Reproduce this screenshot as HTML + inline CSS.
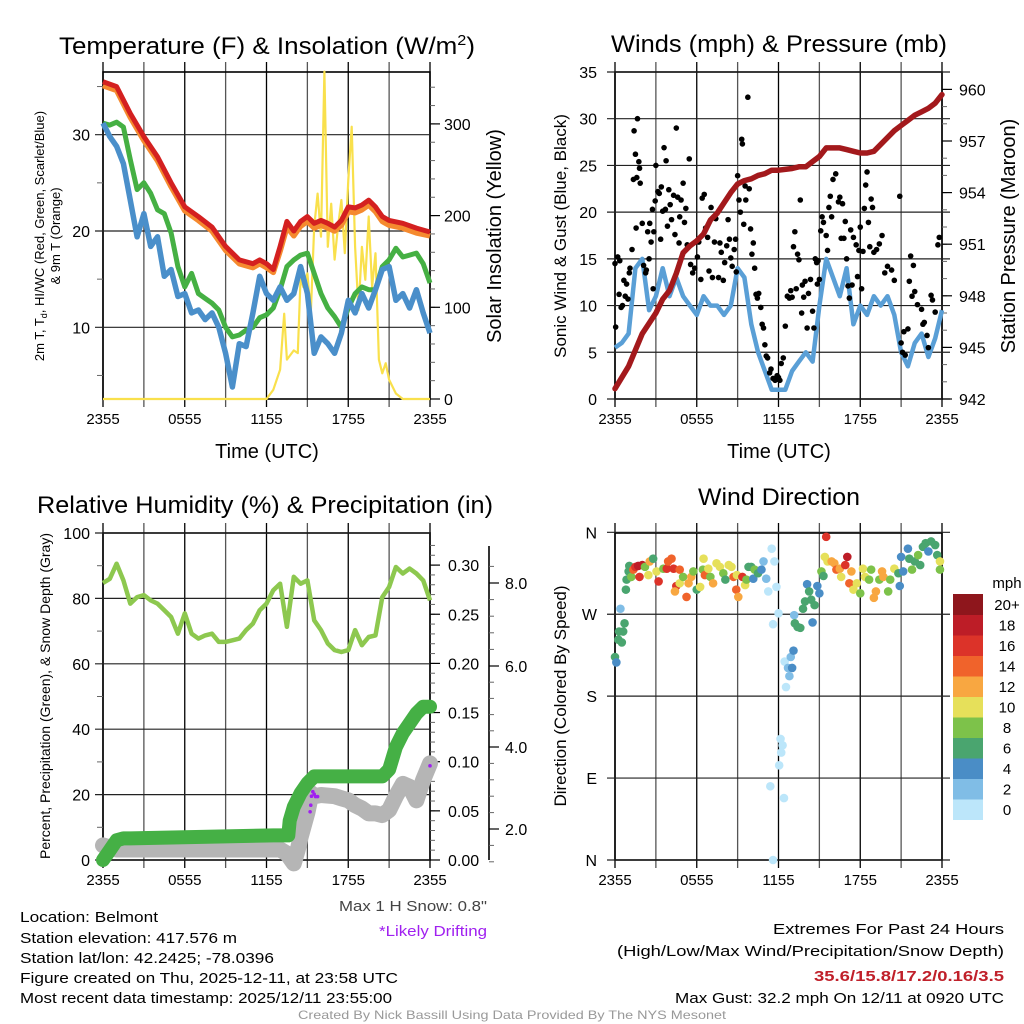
<!DOCTYPE html>
<html><head><meta charset="utf-8"><style>
html,body{margin:0;padding:0;background:#fff;}
svg{display:block;font-family:"Liberation Sans",sans-serif;}
</style></head><body>
<svg id="fig" xmlns="http://www.w3.org/2000/svg" width="1024" height="1024" viewBox="0 0 1024 1024">
<rect x="0" y="0" width="1024" height="1024" fill="#fff"/>
<g id="g1"></g>
<g id="g2"></g>
<g id="g3"></g>
<g id="g4"></g>
<g id="txt">
<text x="267" y="54" font-size="24" text-anchor="middle" textLength="416" lengthAdjust="spacingAndGlyphs">Temperature (F) &amp; Insolation (W/m<tspan dy="-9" font-size="15">2</tspan><tspan dy="9">)</tspan></text>
<text x="779" y="52" font-size="24" text-anchor="middle" textLength="336" lengthAdjust="spacingAndGlyphs">Winds (mph) &amp; Pressure (mb)</text>
<text x="265" y="513" font-size="24" text-anchor="middle" textLength="456" lengthAdjust="spacingAndGlyphs">Relative Humidity (%) &amp; Precipitation (in)</text>
<text x="779" y="505" font-size="24" text-anchor="middle" textLength="162" lengthAdjust="spacingAndGlyphs">Wind Direction</text>
<text x="267" y="458" font-size="20" text-anchor="middle">Time (UTC)</text>
<text x="779" y="458" font-size="20" text-anchor="middle">Time (UTC)</text>
<text transform="translate(44,236) rotate(-90)" font-size="13" text-anchor="middle">2m T, T<tspan dy="3" font-size="9">d</tspan><tspan dy="-3">, HI/WC (Red, Green, Scarlet/Blue)</tspan></text>
<text transform="translate(60,236) rotate(-90)" font-size="13" text-anchor="middle">&amp; 9m T (Orange)</text>
<text transform="translate(501,236) rotate(-90)" font-size="20" text-anchor="middle">Solar Insolation (Yellow)</text>
<text transform="translate(566,236) rotate(-90)" font-size="17" text-anchor="middle">Sonic Wind &amp; Gust (Blue, Black)</text>
<text transform="translate(1015,236) rotate(-90)" font-size="20" text-anchor="middle">Station Pressure (Maroon)</text>
<text transform="translate(50,696) rotate(-90)" font-size="14" text-anchor="middle">Percent, Precipitation (Green), &amp; Snow Depth (Gray)</text>
<text transform="translate(566,696) rotate(-90)" font-size="17" text-anchor="middle">Direction (Colored By Speed)</text>
<text x="487" y="911" font-size="15" fill="#444" text-anchor="end" textLength="148" lengthAdjust="spacingAndGlyphs">Max 1 H Snow: 0.8"</text>
<text x="487" y="936" font-size="15" fill="#a020f0" text-anchor="end" textLength="108" lengthAdjust="spacingAndGlyphs">*Likely Drifting</text>
<text x="20" y="922" font-size="15" textLength="138" lengthAdjust="spacingAndGlyphs">Location: Belmont</text>
<text x="20" y="943" font-size="15" textLength="217" lengthAdjust="spacingAndGlyphs">Station elevation: 417.576 m</text>
<text x="20" y="963" font-size="15" textLength="254" lengthAdjust="spacingAndGlyphs">Station lat/lon: 42.2425; -78.0396</text>
<text x="20" y="983" font-size="15" textLength="378" lengthAdjust="spacingAndGlyphs">Figure created on Thu, 2025-12-11, at 23:58 UTC</text>
<text x="20" y="1003" font-size="15" textLength="372" lengthAdjust="spacingAndGlyphs">Most recent data timestamp: 2025/12/11 23:55:00</text>
<text x="1004" y="934" font-size="15" text-anchor="end" textLength="231" lengthAdjust="spacingAndGlyphs">Extremes For Past 24 Hours</text>
<text x="1004" y="956" font-size="15" text-anchor="end" textLength="387" lengthAdjust="spacingAndGlyphs">(High/Low/Max Wind/Precipitation/Snow Depth)</text>
<text x="1004" y="981" font-size="15" font-weight="bold" fill="#c0202a" text-anchor="end" textLength="190" lengthAdjust="spacingAndGlyphs">35.6/15.8/17.2/0.16/3.5</text>
<text x="1004" y="1003" font-size="15" text-anchor="end" textLength="329" lengthAdjust="spacingAndGlyphs">Max Gust: 32.2 mph On 12/11 at 0920 UTC</text>
<text x="512" y="1019" font-size="12" fill="#999" text-anchor="middle" textLength="428" lengthAdjust="spacingAndGlyphs">Created By Nick Bassill Using Data Provided By The NYS Mesonet</text>
</g>
</svg>
<script>
// ---------- data ----------
const hourTicks = [0,6,12,18,24];
const hourLabels = ["2355","0555","1155","1755","2355"];
const tempHours = [0,1,2,3,4,5,6,7,8,9,10,11,11.5,12,12.5,13,13.5,14,14.5,15,15.5,16,16.5,17,17.5,18,18.5,19,19.5,20,20.5,21,22,23,24];
const tempVals = [35.5,35,32.2,29.8,27.7,25,22.5,21.5,20.4,18.4,17,16.6,17,16.6,16,18.4,21,20,21,21.5,20.8,21.1,20.8,20.4,21.1,22.5,22.4,22.7,23.2,22.5,21.5,21.1,20.8,20.3,19.9];
const temp9mVals = [35.1,34.6,31.8,29.4,27.3,24.6,22.1,21.1,20,18,16.6,16.2,16.6,16.2,15.7,17.9,20.4,19.5,20.5,21,20.3,20.6,20.3,20,20.6,22,21.9,22.2,22.7,22,21,20.6,20.3,19.8,19.5];
const halfHours = [0,0.5,1,1.5,2,2.5,3,3.5,4,4.5,5,5.5,6,6.5,7,7.5,8,8.5,9,9.5,10,10.5,11,11.5,12,12.5,13,13.5,14,14.5,15,15.5,16,16.5,17,17.5,18,18.5,19,19.5,20,20.5,21,21.5,22,22.5,23,23.5,24];
const dewVals = [31.2,31,31.3,30.8,27.4,24.3,25,23.9,22.2,21.8,19.8,16.3,14.2,15.6,13.5,13,12.5,11.8,10,9,9.2,9.7,10,11,11.3,12,13.9,16.3,17,17.5,17.7,15.6,13.5,12,11.1,10,12,13.5,14.2,13.9,13.9,16.3,17,18.2,17.3,17.5,17.7,16.6,14.6];
const wcVals = [31.2,29.8,28.8,27,23.2,19.4,21.8,18.4,19.4,15.3,16,13.2,13.5,11.5,11.8,10.8,11.5,10,7.3,3.8,8.3,8,11.5,15.3,13.5,12.8,14.2,12.8,13.5,16.3,13.5,7.3,9,8.3,7.3,9.4,12.8,11.5,13.5,12,13.9,16,16.3,12.8,13.5,12,13.9,11.5,9.4];
const solarHours = [0,12,12.5,13,13.3,13.5,14,14.3,14.5,14.7,15,15.25,15.5,15.75,16,16.25,16.5,16.75,17,17.25,17.5,17.75,18,18.25,18.5,18.75,19,19.25,19.5,19.75,20,20.25,20.5,20.75,21,21.5,22,24];
const solarVals = [0,0,10,32,93,43,53,50,133,122,137,93,188,224,177,357,166,213,152,188,217,159,239,297,166,97,166,130,199,122,159,43,28,39,21,6,0,0];
const windVals = [5.5,6,7,14,15,9.5,11,14,11,13,11,10,9,11,10,10,9,10,14,13,8,5,3,1,1,1,3,4,5,4,10,15,13,11,14,8,10,9,11,10,11,9,5,3.5,6,7,4.5,6.5,9.5];
const gustHours = [0,0.05,0.2,0.3,0.35,0.45,0.55,0.65,0.75,0.85,0.95,1.05,1.1,1.25,1.35,1.4,1.5,1.55,1.6,1.65,1.75,1.8,1.85,2,2.1,2.25,2.3,2.4,2.5,2.55,2.65,2.75,2.8,2.85,2.95,3.0,3.15,3.25,3.35,3.4,3.5,3.6,3.7,3.75,3.85,3.95,4.05,4.15,4.3,4.4,4.5,4.6,4.7,4.75,4.85,5.0,5.1,5.2,5.3,5.45,5.55,5.7,5.85,6.05,6.15,6.3,6.4,6.55,6.65,6.8,6.9,7.05,7.15,7.3,7.4,7.6,7.7,7.8,7.95,8.05,8.2,8.3,8.4,8.5,8.6,8.75,8.85,8.9,9.0,9.1,9.2,9.3,9.35,9.45,9.55,9.6,9.75,9.85,9.95,10.05,10.15,10.25,10.35,10.45,10.55,10.7,10.8,10.9,11.0,11.1,11.2,11.35,11.45,11.6,11.75,11.9,12.0,12.1,12.2,12.35,12.5,12.65,12.8,12.9,13.0,13.1,13.2,13.3,13.4,13.5,13.6,13.7,13.75,13.85,13.95,14.1,14.2,14.35,14.5,14.6,14.7,14.8,14.85,14.9,15.0,15.1,15.2,15.3,15.5,15.6,15.7,15.8,15.9,16.0,16.2,16.4,16.5,16.6,16.7,16.8,16.9,17.0,17.1,17.2,17.3,17.4,17.5,17.7,17.8,17.9,18.0,18.1,18.2,18.3,18.4,18.5,18.6,18.7,18.8,18.9,19.0,19.2,19.4,19.6,19.8,20.0,20.3,20.5,20.9,21.0,21.1,21.2,21.3,21.5,21.6,21.7,21.8,21.9,22.0,22.2,22.5,22.6,22.7,22.9,23.0,23.2,23.3,23.5,23.7,23.8];
const gustVals = [14.5,7.7,15.2,11.2,14.8,9.8,10,12.7,11,12.3,10.7,13.5,14,16,23.5,28.7,26.2,18.3,23.7,30,25.4,24.7,23.1,18.8,14.3,13.5,13.8,17.9,15,18.8,16.8,20.3,11.8,17.9,21.2,25,22.2,22,17.1,22.7,20.1,26.9,20.3,25.5,18.5,22.4,20.8,19.2,21.8,17.6,29,21.6,16.7,19.5,21.3,23.1,18.9,20.4,16.5,25.7,14.4,13.5,14,15.2,16.8,12.8,21.5,21.9,18.3,17.3,13.7,20.5,13,16.8,19.3,13,16.7,15.7,12.7,14.6,16.4,19.2,17.1,15.1,14.2,16,17.1,13.6,23.9,21.3,20,27.8,27.3,18.7,22.8,21.3,32.3,22.5,18.2,15.5,16.7,14,11.2,10.8,11.3,9.8,8,7.6,5.8,4.6,4.4,2.8,3.2,2.2,2,2.5,2.3,2,3.8,4.4,7.8,11,10.8,11.6,10.9,16.3,17.9,11.8,15.5,14.9,21.3,9.2,12.2,10.9,12.6,7.6,11.3,12.8,9.4,7.6,15,14.6,12.3,14.8,12.8,18,19.5,18.9,17.5,15.9,20.5,21.7,19.5,23.5,24.1,21.1,21.6,17.2,20.9,17.2,19,15,12.1,10.8,18.1,12.2,17.3,16.5,13.1,15.9,18.4,11.8,15.8,20.4,22.9,24.3,18.9,16.3,21.4,20.5,15.7,16,16.6,17.5,13.5,14.2,13.8,12.7,21.7,6,5,7.2,4.7,7.5,12.6,15.3,11,14.3,11.5,10.1,9.6,8,8.2,6.8,5.5,11.1,10.6,9.3,16.5,17.3];
const pressHours = [0,1,2,3,3.5,4,4.5,5,5.5,6,6.5,7,7.5,8,8.5,9,9.5,10,10.5,11,11.5,12,13,13.5,14,14.5,15,15.5,16,16.5,17,17.5,18,18.5,19,19.5,20,20.5,21,21.5,22,22.5,23,23.5,24];
const pressVals = [942.6,943.9,945.8,947,947.8,948.3,949.3,950.5,950.9,951.2,951.6,952.4,952.8,953.4,954,954.5,954.7,954.8,955,955.1,955.3,955.3,955.4,955.5,955.5,955.8,956.1,956.6,956.6,956.6,956.5,956.4,956.3,956.3,956.4,956.8,957.2,957.6,957.9,958.2,958.5,958.7,958.9,959.2,959.7];
const rhVals = [84.7,86,90.6,85.5,78.4,80.4,81,79.4,78.4,76.4,74.3,69.2,75.4,69.2,67.7,68.7,69.2,66.7,66.7,67.2,67.7,70.3,72.3,76.4,78.4,82.5,84.5,71.3,86.6,84.5,85.5,73.3,70.3,66.2,64.2,63.6,64.2,70.3,65.7,68.2,68.7,80.4,83.5,89.6,87.6,89.1,87.6,85.5,79.4];
const precipHours = [0,0.5,1,1.5,2,12.5,13.6,13.7,14,14.5,15,15.5,20.5,21,21.5,22,22.5,23,23.5,24];
const precipVals = [0,0.01,0.02,0.022,0.022,0.025,0.025,0.04,0.054,0.068,0.078,0.085,0.085,0.092,0.115,0.129,0.139,0.149,0.156,0.156];
const snowHours = [0,1,13,13.5,14,14.3,14.5,15,15.3,15.5,16,17,17.5,18,18.5,19,19.5,20,20.5,21,21.5,22,22.5,23,23.5,24];
const snowVals = [1.6,1.5,1.5,1.4,1.16,1.5,1.8,2.4,2.87,2.8,2.83,2.8,2.75,2.7,2.58,2.5,2.38,2.38,2.34,2.46,2.8,3.1,3.03,2.7,3.2,3.6];
const driftHours = [15.2,15.25,15.3,15.4,15.5,15.6,15.75,24];
const driftVals = [2.42,2.58,2.8,2.91,2.85,2.79,2.79,3.54];
const dirHours = [0,0.1,0.4,0.3,0.6,0.7,0.25,0.5,0.8,0.85,1,1.05,1.2,1.35,1.5,1.7,1.8,2,2.2,2.45,2.55,2.8,3.05,3.2,3.55,3.8,3.9,4.15,4.3,4.5,4.4,4.75,4.75,5,5.25,5.4,5.6,5.75,6,6.25,6.5,6.45,6.6,6.85,7,7.2,7.45,7.7,7.95,8.1,8.35,8.55,8.7,8.9,9.05,8.95,9.35,9.55,9.65,9.8,10,10.15,10.25,10.5,10.75,10.9,11.1,11.25,11.5,11.7,11.85,12,11.6,11.6,11.4,12.05,12.2,12.3,12.15,12.4,12.45,12.55,12.8,12.7,12.9,13.0,13.1,13.15,13.2,13.4,13.6,13.8,13.95,14.1,14.25,14.4,14.5,14.65,14.85,15.0,15.15,15.3,15.4,15.5,15.6,15.9,16.1,16.25,16.5,16.6,16.9,17.05,17.2,17.35,17.5,17.75,18,18.2,18.35,18.65,18.8,19,19.15,19.4,19.6,19.7,20.05,20.2,20.5,20.8,20.9,21,21.15,21.5,21.6,21.8,22,22.25,22.4,22.6,22.8,23,23.2,23.5,23.65,23.85,23.85];
const dirVals = [223,217,276,251,251,260,242,239,297,308,317,323,311,319,322,323,311,324,322,313,328,331,317,306,320,320,328,331,320,301,295,319,304,311,289,304,311,317,297,300,331,319,313,320,311,304,326,322,315,308,324,322,311,297,289,313,311,302,308,322,322,309,319,315,319,328,309,295,342,328,300,271,259,0,81,104,118,126,133,68,218,190,202,211,223,211,230,269,260,256,255,276,284,303,295,286,261,280,301,293,317,312,333,355,328,328,326,319,320,311,324,333,304,317,297,304,293,320,311,308,319,288,295,308,317,311,295,308,320,315,301,333,317,342,331,319,328,335,324,344,348,339,350,346,335,328,319];
const dirSpeeds = [6,4,2,6,6,6,6,6,6,6,6,6,8,14,16,18,16,18,8,10,12,6,10,16,8,16,14,14,16,16,12,14,10,8,14,12,12,8,6,10,10,8,14,10,8,12,10,10,8,6,10,10,14,14,12,10,16,10,8,6,6,4,8,6,4,2,2,0,0,0,0,0,0,0,0,0,0,0,0,0,0,0,2,2,2,4,4,2,6,6,6,6,6,4,6,6,4,6,4,4,8,6,10,16,10,12,12,14,12,10,16,18,14,12,10,10,8,10,10,8,8,12,12,8,12,12,8,8,10,6,4,4,4,4,6,8,6,8,6,6,6,4,6,6,6,10,8];
const speedBins = [0,2,4,6,8,10,12,14,16,18,20];
const speedLabels = ["0","2","4","6","8","10","12","14","16","18","20+"];
const speedColors = ["#bce6fa","#80bde6","#4a8dc6","#4aa56f","#7dc24a","#e6e05a","#f8a741","#f0632b","#dc3329","#bd1d27","#8e161c"];

// ---------- helpers ----------
const NS = "http://www.w3.org/2000/svg";
function mk(tag, parent, attrs){ const e=document.createElementNS(NS,tag); for(const k in attrs) e.setAttribute(k,attrs[k]); parent.appendChild(e); return e; }
function pathD(xs, ys){ return xs.map((x,i)=>(i?"L":"M")+x.toFixed(1)+","+ys[i].toFixed(1)).join(""); }

const X = (h, x0, x1) => x0 + h*(x1-x0)/24;
const x1f = h => X(h,103,430);
const x2f = h => X(h,615,942);
const tY = v => 423.6 - 9.63*v;
const sY = v => 399 - 0.917*v;
const wY = v => 399 - v*9.343;
const pY = p => 399 - (p-942)*17.2;
const rY = v => 860 - 3.27*v;
const prY = v => 860 - v*983;
const snY = v => 911 - 41*v;
const dY = d => 860 - d*0.9103;

function frame(g, x0, x1, y0, y1, xf, nameP){
  for(let h=0; h<=24; h+=3){
    const x = xf(h);
    const l = mk("line", g, {x1:x,x2:x,y1:y0-10,y2:y1+8,stroke:(h%6===0)?"#000":"#555","stroke-width":1.3});
    
    
  }
  hourTicks.forEach((h,i)=>{
    const t = mk("text", g, {x:xf(h), y:y1+25, "font-size":15, "text-anchor":"middle"});
    t.textContent = hourLabels[i];
    
    
  });
  const r = mk("rect", g, {x:x0,y:y0,width:x1-x0,height:y1-y0,fill:"none",stroke:"#000","stroke-width":1.6});
  
  
}
function hgrid(g, vals, yf, x0, x1, labels, lx, nameP, extend){
  vals.forEach((v,i)=>{
    const y = yf(v);
    const l = mk("line", g, {x1:x0-8,x2:x1+(extend||0),y1:y,y2:y,stroke:"#222","stroke-width":1.2});
    
    
    const t = mk("text", g, {x:lx, y:y+6, "font-size":16, "text-anchor":"end"});
    t.textContent = labels[i];
    
    
  });
}
function rightAxis(g, x, major, minor, yf, labels, lx, nameP, fs){
  minor.forEach(v=>{ const l=mk("line",g,{x1:x,x2:x+5,y1:yf(v),y2:yf(v),stroke:"#666","stroke-width":1});
    
     });
  major.forEach((v,i)=>{ const l=mk("line",g,{x1:x,x2:x+10,y1:yf(v),y2:yf(v),stroke:"#000","stroke-width":1.2});
    
    
    const t=mk("text",g,{x:lx,y:yf(v)+6,"font-size":fs||16});
    t.textContent=labels[i];
    
     });
}

// ---------- panel 1 ----------
const g1 = document.getElementById("g1");
frame(g1,103,430,72,399,x1f,"temp");
hgrid(g1,[10,20,30],tY,103,430,["10","20","30"],90,"temp");
[5,15,25,35].forEach(v=>{ const l=mk("line",g1,{x1:97,x2:103,y1:tY(v),y2:tY(v),stroke:"#666"});
  
   });
const solMinor=[]; for(let v=0; v<=340; v+=20) solMinor.push(v);
rightAxis(g1,430,[0,100,200,300],solMinor,sY,["0","100","200","300"],444,"solar");
const yl = mk("path", g1, {d:pathD(solarHours.map(x1f), solarVals.map(sY)), fill:"none", stroke:"#f9e04c","stroke-width":2.2,"stroke-linejoin":"round"});


const gl = mk("path", g1, {d:pathD(halfHours.map(x1f), dewVals.map(tY)), fill:"none", stroke:"#45b043","stroke-width":5,"stroke-linejoin":"round"});


const bl = mk("path", g1, {d:pathD(halfHours.map(x1f), wcVals.map(tY)), fill:"none", stroke:"#4a8fca","stroke-width":5.5,"stroke-linejoin":"round"});


const ol = mk("path", g1, {d:pathD(tempHours.map(x1f), temp9mVals.map(tY)), fill:"none", stroke:"#f58a2f","stroke-width":5.5,"stroke-linejoin":"round"});


const rl = mk("path", g1, {d:pathD(tempHours.map(x1f), tempVals.map(tY)), fill:"none", stroke:"#d42020","stroke-width":5,"stroke-linejoin":"round"});



// ---------- panel 2 ----------
const g2 = document.getElementById("g2");
frame(g2,615,942,72,399,x2f,"wind");
hgrid(g2,[0,5,10,15,20,25,30,35],wY,615,942,["0","5","10","15","20","25","30","35"],597,"wind",8);
const pMinor=[]; for(let p=942; p<=960; p+=1) pMinor.push(p);
rightAxis(g2,942,[942,945,948,951,954,957,960],pMinor,pY,["942","945","948","951","954","957","960"],959,"pressure");
const wl = mk("path", g2, {d:pathD(halfHours.map(x2f), windVals.map(wY)), fill:"none", stroke:"#5a9fd6","stroke-width":4.5,"stroke-linejoin":"round"});


gustHours.forEach((h,i)=>{
  if(gustVals[i]===undefined) return;
  const c = mk("circle", g2, {cx:x2f(h), cy:wY(gustVals[i]), r:2.8, fill:"#000"});
  
  
});
const pl = mk("path", g2, {d:pathD(pressHours.map(x2f), pressVals.map(pY)), fill:"none", stroke:"#a3191c","stroke-width":5.5,"stroke-linejoin":"round","stroke-linecap":"round"});



// ---------- panel 3 ----------
const g3 = document.getElementById("g3");
frame(g3,103,430,533,860,x1f,"rh");
hgrid(g3,[0,20,40,60,80,100],rY,103,430,["0","20","40","60","80","100"],90,"rh");
[10,30,50,70,90].forEach(v=>{ const l=mk("line",g3,{x1:97,x2:103,y1:rY(v),y2:rY(v),stroke:"#666"});
  
   });
const prMinor=[]; for(let v=0; v<=0.33; v+=0.01) prMinor.push(v);
rightAxis(g3,430,[0,0.05,0.1,0.15,0.2,0.25,0.3],prMinor,prY,["0.00","0.05","0.10","0.15","0.20","0.25","0.30"],448,"precip");
const snAxis = mk("line", g3, {x1:489,x2:489,y1:546,y2:860,stroke:"#000","stroke-width":1.6});


const snMinor=[]; for(let v=1.2; v<=8.8; v+=0.4) snMinor.push(v);
const snMajorY = {2:829,4:747,6:666,8:583};
const snYmap = v => {
  const ks=[2,4,6,8]; if(v<=2) return 829+(2-v)*41; if(v>=8) return 583-(v-8)*41.5;
  for(let i=0;i<3;i++){ if(v<=ks[i+1]) return snMajorY[ks[i]]+(v-ks[i])*(snMajorY[ks[i+1]]-snMajorY[ks[i]])/2; }
  return 583; };
rightAxis(g3,489,[2,4,6,8],snMinor,snYmap,["2.0","4.0","6.0","8.0"],505,"snow");
const sl = mk("path", g3, {d:pathD(snowHours.map(x1f), snowVals.map(snY)), fill:"none", stroke:"#b5b5b5","stroke-width":16,"stroke-linejoin":"round","stroke-linecap":"round"});


const pcl = mk("path", g3, {d:pathD(precipHours.map(x1f), precipVals.map(prY)), fill:"none", stroke:"#45b045","stroke-width":14,"stroke-linejoin":"round","stroke-linecap":"round"});


const rhl = mk("path", g3, {d:pathD(halfHours.map(x1f), rhVals.map(rY)), fill:"none", stroke:"#8dc84f","stroke-width":4.5,"stroke-linejoin":"round"});


driftHours.forEach((h,i)=>{
  const c = mk("circle", g3, {cx:x1f(h), cy:snY(driftVals[i]), r:1.8, fill:"#a020f0"});
  
  
});

// ---------- panel 4 ----------
const g4 = document.getElementById("g4");
frame(g4,615,942,533,860,x2f,"dir");
hgrid(g4,[0,90,180,270,360],dY,615,942,["N","E","S","W","N"],597,"dir",8);
const colorOf = s => { let k=0; for(let i=0;i<speedBins.length;i++){ if(s>=speedBins[i]) k=i; } return speedColors[k]; };
dirHours.forEach((h,i)=>{
  const c = mk("circle", g4, {cx:x2f(h), cy:dY(dirVals[i]), r:4.3, fill:colorOf(dirSpeeds[i])});
  
  
});
const cbTop = 594, cbH = 20.5;
speedBins.forEach((b,i)=>{
  const y = cbTop + (speedBins.length-1-i)*cbH;
  const r = mk("rect", g4, {x:953,y:y,width:30,height:cbH+0.5,fill:speedColors[i]});
  
  
  const t = mk("text", g4, {x:1007,y:y+16,"font-size":15,"text-anchor":"middle"});
  t.textContent = speedLabels[i];
  
  
});
const mph = mk("text", g4, {x:1007,y:588,"font-size":15,"text-anchor":"middle"});
mph.textContent = "mph";


</script>
</body></html>
